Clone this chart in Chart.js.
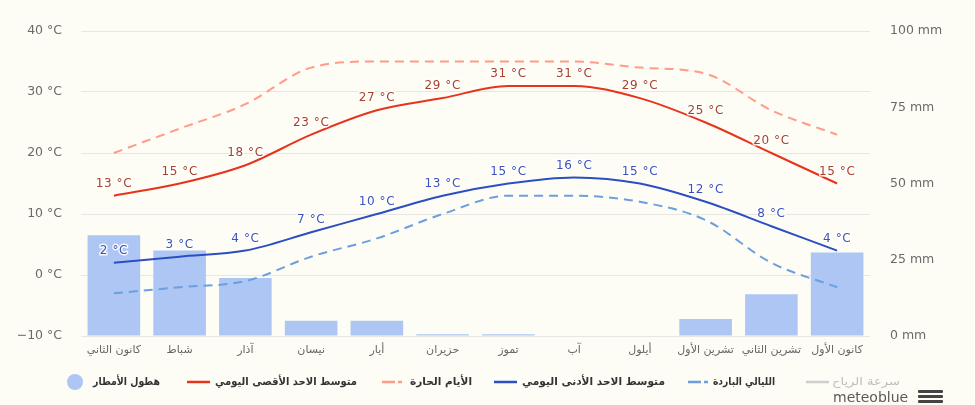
<!DOCTYPE html>
<html>
<head>
<meta charset="utf-8">
<script src="https://cdn.jsdelivr.net/npm/chart.js@4.4.1/dist/chart.umd.min.js"></script>
<style>
  html, body { margin: 0; padding: 0; background: #fdfdf6; }
  #wrap { position: relative; width: 975px; height: 405px; overflow: hidden; background: #fdfdf6; }
  canvas { position: absolute; left: 0; top: 0; }
  .sym { position: absolute; }
  .txt { position: absolute; top: 374px; font: bold 11px "DejaVu Sans", sans-serif; color: #333; white-space: nowrap; line-height: 16px; transform-origin: left center; }
  .logo { position: absolute; left: 833px; top: 388px; font: 14px "DejaVu Sans", sans-serif; color: #5a5a5a; line-height: 18px; }
</style>
</head>
<body>
<div id="wrap">
  <canvas id="c" width="975" height="405"></canvas>
  <div id="legend"></div>
</div>
<script>
const months = ['كانون الثاني','شباط','آذار','نيسان','أيار','حزيران','تموز','آب','أيلول','تشرين الأول','تشرين الثاني','كانون الأول'];
const precipitation = [33, 28, 19, 5, 5, 0.6, 0.6, 0, 0, 5.6, 13.7, 27.4];
const maxTemp = [13, 15, 18, 23, 27, 29, 31, 31, 29, 25, 20, 15];
const minTemp = [2, 3, 4, 7, 10, 13, 15, 16, 15, 12, 8, 4];
const hotDays = [20, 24, 28, 34, 35, 35, 35, 35, 34, 33, 27, 23];
const coldNights = [-3, -2, -1, 3, 6, 10, 13, 13, 12, 9, 2, -2];
const tempTicks = [-10, 0, 10, 20, 30, 40];
const rainTicks = [0, 25, 50, 75, 100];
const legendNames = ['هطول الأمطار', 'متوسط الاحد الأقصى اليومي', 'الأيام الحارة', 'متوسط الاحد الأدنى اليومي', 'الليالي الباردة', 'سرعة الرياح'];

const C = {
  bar: '#adc6f3', max: '#e8331c', hot: '#ff9b86', min: '#2b4fc2', cold: '#6c9fe0', wind: '#cfcfcf',
  maxLbl: '#a8402c', minLbl: '#3d52bd'
};

const labelPlugin = {
  id: 'pointLabels',
  afterDatasetsDraw(chart) {
    const ctx = chart.ctx;
    [[1, maxTemp, C.maxLbl], [3, minTemp, C.minLbl]].forEach(([i, vals, color]) => {
      const meta = chart.getDatasetMeta(i);
      meta.data.forEach((pt, j) => {
        const txt = vals[j] + ' °C';
        ctx.save();
        ctx.font = '12px "DejaVu Sans"';
        if ('letterSpacing' in ctx) ctx.letterSpacing = '0.6px';
        ctx.textAlign = 'center';
        ctx.textBaseline = 'middle';
        ctx.lineJoin = 'round';
        ctx.lineWidth = 3;
        ctx.strokeStyle = 'rgba(255,255,255,0.85)';
        ctx.strokeText(txt, pt.x, pt.y - 12);
        ctx.fillStyle = color;
        ctx.fillText(txt, pt.x, pt.y - 12);
        ctx.restore();
      });
    });
  }
};

const lineBase = { type: 'line', pointRadius: 0, pointHoverRadius: 0, borderWidth: 2, cubicInterpolationMode: 'monotone', yAxisID: 'y', fill: false, order: 1 };

new Chart(document.getElementById('c'), {
  type: 'bar',
  data: {
    labels: months,
    datasets: [
      { type: 'bar', label: legendNames[0], data: precipitation, yAxisID: 'yR', backgroundColor: C.bar, barPercentage: 0.8, categoryPercentage: 1, order: 10 },
      Object.assign({}, lineBase, { label: legendNames[1], data: maxTemp, borderColor: C.max }),
      Object.assign({}, lineBase, { label: legendNames[2], data: hotDays, borderColor: C.hot, borderDash: [9, 6] }),
      Object.assign({}, lineBase, { label: legendNames[3], data: minTemp, borderColor: C.min }),
      Object.assign({}, lineBase, { label: legendNames[4], data: coldNights, borderColor: C.cold, borderDash: [9, 6] })
    ]
  },
  options: {
    responsive: false,
    animation: false,
    devicePixelRatio: 1,
    layout: { padding: { top: 31, left: 0, right: 0, bottom: 0 } },
    plugins: { legend: { display: false }, tooltip: { enabled: false } },
    scales: {
      x: {
        offset: true,
        grid: { display: false, drawTicks: false },
        border: { display: false },
        ticks: { color: '#666', font: { family: 'DejaVu Sans', size: 11 }, padding: 8, maxRotation: 0, autoSkip: false },
        afterFit(s) { s.height = 69; }
      },
      y: {
        position: 'left', min: -10, max: 40,
        afterBuildTicks(s) { s.ticks = tempTicks.map(v => ({ value: v })); },
        grid: { color: '#e7e7e2', drawTicks: false },
        border: { display: false },
        ticks: { color: '#6a6a6a', font: { family: 'DejaVu Sans', size: 12.5 }, padding: 19,
          callback: v => (v < 0 ? '−' + Math.abs(v) : v) + ' °C' },
        afterFit(s) { s.width = 81; }
      },
      yR: {
        position: 'right', min: 0, max: 100,
        afterBuildTicks(s) { s.ticks = rainTicks.map(v => ({ value: v })); },
        grid: { drawOnChartArea: false, drawTicks: false },
        border: { display: false },
        ticks: { color: '#6a6a6a', font: { family: 'DejaVu Sans', size: 12.5 }, padding: 20,
          callback: v => v + ' mm' },
        afterFit(s) { s.width = 105; }
      }
    }
  },
  plugins: [labelPlugin]
});

// legend (HTML)
const legendItems = [
  { sym: 'circle', color: C.bar, symX: 67, txtX: 93, w: 67 },
  { sym: 'line', color: C.max, symX: 187, txtX: 215, w: 142 },
  { sym: 'dash', color: C.hot, symX: 382, txtX: 410, w: 62 },
  { sym: 'line', color: C.min, symX: 494, txtX: 522, w: 143 },
  { sym: 'dash', color: C.cold, symX: 688, txtX: 713, w: 62 },
  { sym: 'line', color: C.wind, symX: 806, txtX: 832, w: 68, muted: true }
];
const lg = document.getElementById('legend');
legendItems.forEach((it, i) => {
  let s;
  if (it.sym === 'circle') {
    s = document.createElement('div');
    s.className = 'sym';
    s.style.cssText = `left:${it.symX}px;top:374px;width:16px;height:16px;border-radius:50%;background:${it.color};`;
  } else {
    s = document.createElementNS('http://www.w3.org/2000/svg', 'svg');
    s.setAttribute('class', 'sym');
    s.setAttribute('width', '24'); s.setAttribute('height', '6');
    s.style.left = it.symX + 'px'; s.style.top = '379px';
    const l = document.createElementNS('http://www.w3.org/2000/svg', 'line');
    l.setAttribute('x1', '0'); l.setAttribute('x2', it.sym === 'dash' ? '20' : '23');
    l.setAttribute('y1', '3'); l.setAttribute('y2', '3');
    l.setAttribute('stroke', it.color); l.setAttribute('stroke-width', '2.5');
    if (it.sym === 'dash') l.setAttribute('stroke-dasharray', '13 3');
    s.appendChild(l);
  }
  lg.appendChild(s);
  const t = document.createElement('div');
  t.className = 'txt';
  t.style.left = it.txtX + 'px';
  if (it.muted) { t.style.color = '#bdbdbd'; t.style.fontWeight = 'normal'; }
  t.textContent = legendNames[i];
  lg.appendChild(t);
  const actual = t.getBoundingClientRect().width;
  if (actual > 0) t.style.transform = `scaleX(${(it.w / actual).toFixed(3)})`;
});

// logo
const logo = document.createElement('div');
logo.className = 'logo';
logo.textContent = 'meteoblue';
lg.appendChild(logo);
const burger = document.createElement('div');
burger.style.cssText = 'position:absolute;left:918px;top:390px;width:25px;height:13px;';
[0, 5, 10].forEach(y => {
  const b = document.createElement('div');
  b.style.cssText = `position:absolute;left:0;top:${y}px;width:25px;height:3px;background:#444;border-radius:1px;`;
  burger.appendChild(b);
});
lg.appendChild(burger);
</script>
</body>
</html>
